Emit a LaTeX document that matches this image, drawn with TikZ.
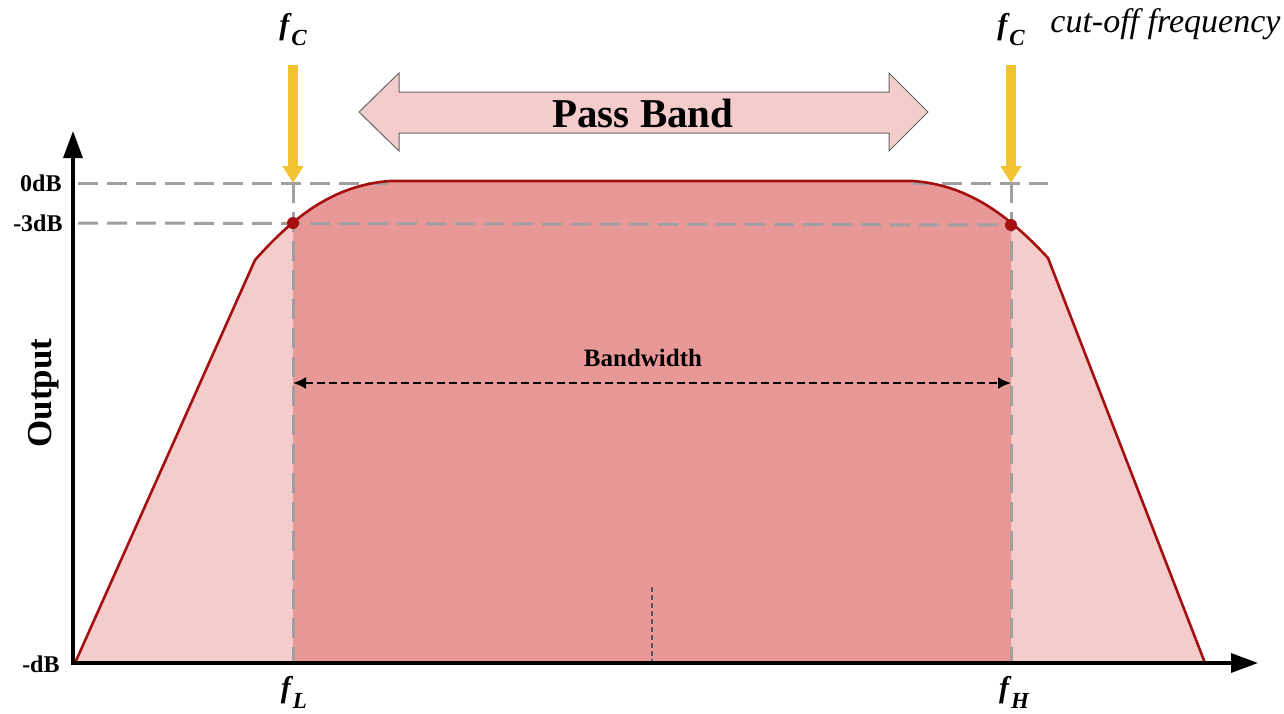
\documentclass[tikz,border=0pt]{standalone}
\usepackage{fontspec}
\setmainfont{Liberation Serif}
\usetikzlibrary{arrows.meta}
\definecolor{curvered}{RGB}{165, 15, 15}
\definecolor{lightpink}{RGB}{244, 204, 204}
\definecolor{darkpink}{RGB}{233, 152, 152}
\definecolor{cutyellow}{RGB}{241, 194, 50}
\definecolor{guidegray}{RGB}{160, 160, 160}

\begin{document}
\begin{tikzpicture}[x=0.5pt, y=-0.5pt, >=Stealth,
  guide/.style={guidegray, line width=1.5pt, dash pattern=on 10pt off 4.5pt},
  cutarrow/.style={cutyellow, line width=5pt, -{Triangle[width=10pt, length=8.5pt]}},
  dblabel/.style={font=\fontsize{12}{12}\selectfont\bfseries, anchor=east, inner sep=0pt},
  freqlabel/.style={font=\fontsize{15}{15}\selectfont\bfseries\itshape, anchor=base}]

  \useasboundingbox (0,0) rectangle (1284,713);

  % Response shape (open path, closed by the fill along the axis)
  \def\response{(75,663) -- (255,260) .. controls (295,215) and (335,185) .. (390,181)
    -- (913,181) .. controls (968,185) and (1008,215) .. (1048,258) -- (1205,663)}
  \fill[lightpink] \response;
  \begin{scope}
    \clip (293,0) rectangle (1011,713);
    \fill[darkpink] \response;
  \end{scope}

  % Guide lines
  \coordinate (lowtop) at (293,183);
  \coordinate (hightop) at (1011,183);
  \coordinate (lowpt) at (293,223);
  \coordinate (highpt) at (1011,225);
  \draw[guide] (78,183) -- (390,183);
  \draw[guide] (913,183) -- (1048,183);
  \draw[guide] (78,223) -- (highpt);
  \draw[guide] (lowtop) -- (293,663);
  \draw[guide] (hightop) -- (1011,663);

  % Centre tick
  \draw[black!65, line width=0.6pt, dash pattern=on 2.5pt off 1.5pt] (652,587) -- (652,663);

  % Response curve
  \draw[curvered, line width=1.3pt] \response;
  \fill[curvered] (lowpt) circle (3pt);
  \fill[curvered] (highpt) circle (3pt);

  % Axes
  \draw[line width=1.7pt, {Triangle[width=9.5pt, length=13.5pt]}-{Triangle[width=9.5pt, length=13.5pt]}]
    (73,131) -- (73,663) -- (1258,663);
  \node[dblabel] (zerodb) at (62,183) {0dB};
  \node[dblabel] (threedb) at (63,223) {-3dB};
  \node[dblabel] (mindb) at (60,664) {-dB};
  \node[rotate=90, font=\fontsize{17.5}{17.5}\selectfont\bfseries] (output) at (44,393) {Output};

  % Cut-off markers
  \draw[cutarrow] (293,65) -- (lowtop);
  \draw[cutarrow] (1011,65) -- (hightop);
  \node[freqlabel] (fcleft) at (293,34) {f\kern1pt\raisebox{-5.5pt}{\fontsize{11.5}{11.5}\selectfont C}};
  \node[freqlabel] (fcright) at (1011,34) {f\kern1pt\raisebox{-5.5pt}{\fontsize{11.5}{11.5}\selectfont C}};
  \node[font=\fontsize{17}{17}\selectfont\itshape, anchor=base west, inner sep=0pt] (cutoff) at (1050,32) {cut-off frequency};
  \node[freqlabel] (flow) at (294,697) {f\kern1pt\raisebox{-5.5pt}{\fontsize{11.5}{11.5}\selectfont L}};
  \node[freqlabel] (fhigh) at (1014,697) {f\kern1pt\raisebox{-5.5pt}{\fontsize{11.5}{11.5}\selectfont H}};

  % Pass band arrow
  \filldraw[fill=lightpink, draw=black!60, line width=0.5pt]
    (359,112) -- (399,73) -- (399,92) -- (889,92) -- (889,73) -- (928,112)
    -- (889,151) -- (889,133) -- (399,133) -- (399,151) -- cycle;
  \node[font=\fontsize{20.5}{20.5}\selectfont\bfseries] (passband) at (643,113) {Pass Band};

  % Bandwidth
  \coordinate (bwleft) at (293,383);
  \coordinate (bwright) at (1011,383);
  \draw[line width=1pt, dash pattern=on 4pt off 2pt, {Latex[length=6.5pt, width=6pt]}-{Latex[length=6.5pt, width=6pt]}]
    (bwleft) -- (bwright);
  \node[font=\fontsize{12.5}{12.5}\selectfont\bfseries] (bandwidth) at (643,358) {Bandwidth};

\end{tikzpicture}
\end{document}
